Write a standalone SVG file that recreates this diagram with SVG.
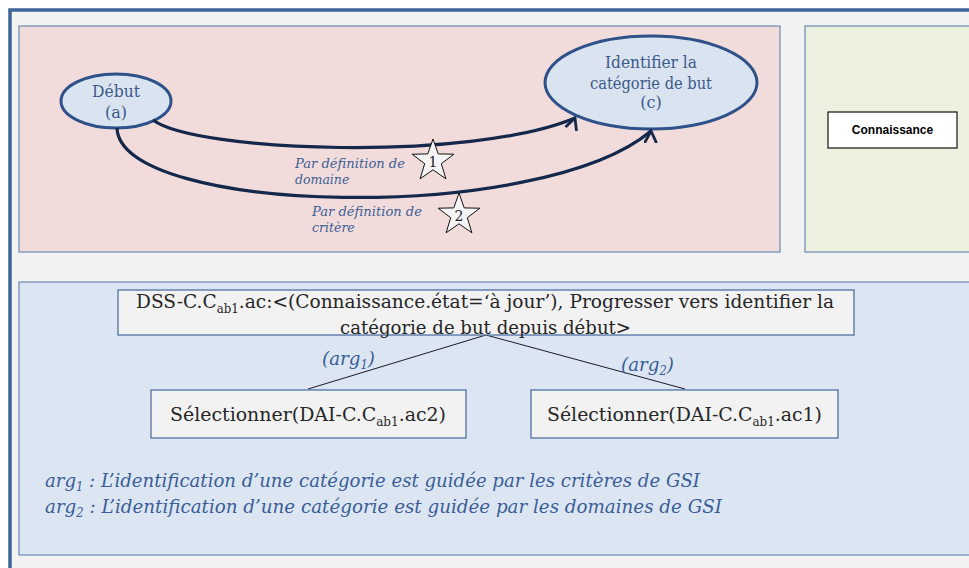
<svg xmlns="http://www.w3.org/2000/svg" width="969" height="568" viewBox="0 0 969 568">
<defs>
<style>
.panel{stroke:#6a8ab5;stroke-width:1.2}
.ell{fill:#dae3f0;stroke:#2f5189;stroke-width:3}
.et{font-size:16px;fill:#3b5a8a;text-anchor:middle}
.lab{font-style:italic;font-size:12.5px;fill:#3c5e94}
.conn{fill:none;stroke:#14284b;stroke-width:3.2}
.star{fill:#f4f4f4;stroke:#111;stroke-width:1}
.sn{font-size:14px;fill:#222;text-anchor:middle}
.box{fill:#f2f2f2;stroke:#4f72a3;stroke-width:1.3}
.bt{font-size:19px;fill:#262626}
.it{font-style:italic;font-size:19px;fill:#3a5d96}
.sub{font-size:12px}
.tl{stroke:#1a1a2a;stroke-width:1}
.ahp{fill:none;stroke:#14284b;stroke-width:2.8;stroke-linecap:round;stroke-linejoin:miter}
</style>
<marker id="ah1" viewBox="0 0 14 14" refX="12" refY="7" markerWidth="14" markerHeight="14" markerUnits="userSpaceOnUse" orient="-70">
<path class="ahp" d="M1,1.5 L12,7 L1,12.5"/>
</marker>
<marker id="ah2" viewBox="0 0 14 14" refX="12" refY="7" markerWidth="14" markerHeight="14" markerUnits="userSpaceOnUse" orient="-88">
<path class="ahp" d="M1,1.5 L12,7 L1,12.5"/>
</marker>
</defs>
<rect x="0" y="0" width="969" height="568" fill="#ffffff"/>
<rect x="10" y="10" width="1000" height="600" fill="#f2f2f2" stroke="#3c6496" stroke-width="3.5"/>

<g id="panel-top">
<rect class="panel" x="19" y="26" width="761" height="226" fill="#f2dcdb"/>
</g>
<g id="panel-green">
<rect class="panel" x="805" y="26" width="180" height="226" fill="#ebf1de"/>
</g>
<g id="panel-bottom">
<rect class="panel" x="19" y="282" width="970" height="273" fill="#dce6f2"/>
</g>

<g id="node-debut" font-family="DejaVu Serif, serif">
<ellipse class="ell" cx="116" cy="101" rx="55" ry="27"/>
<text class="et" x="116" y="97" textLength="48" lengthAdjust="spacingAndGlyphs">Début</text>
<text class="et" x="116" y="118">(a)</text>
</g>

<g id="node-identifier" font-family="DejaVu Serif, serif">
<ellipse class="ell" cx="651" cy="82.5" rx="106" ry="46.5"/>
<text class="et" x="651" y="68" textLength="92" lengthAdjust="spacingAndGlyphs">Identifier la</text>
<text class="et" x="651" y="89" textLength="122" lengthAdjust="spacingAndGlyphs">catégorie de but</text>
<text class="et" x="651" y="108">(c)</text>
</g>

<g id="connectors">
<path class="conn" d="M153,120 C195,152 470,162 575,118" marker-end="url(#ah1)"/>
<path class="conn" d="M117,128 C120,215 540,225 651,131" marker-end="url(#ah2)"/>
<line class="tl" x1="486" y1="335" x2="308" y2="389"/>
<line class="tl" x1="486" y1="335" x2="685" y2="389"/>
</g>

<g id="label-1" font-family="DejaVu Serif, serif">
<text class="lab" x="295" y="168" textLength="110" lengthAdjust="spacingAndGlyphs">Par définition de</text>
<text class="lab" x="295" y="184">domaine</text>
<polygon class="star" points="433,139 438.2,153.9 453.9,154.2 441.3,163.7 445.9,178.8 433,169.8 420.1,178.8 424.7,163.7 412.1,154.2 427.8,153.9"/>
<text class="sn" x="433" y="167">1</text>
</g>

<g id="label-2" font-family="DejaVu Serif, serif">
<text class="lab" x="312" y="216" textLength="110" lengthAdjust="spacingAndGlyphs">Par définition de</text>
<text class="lab" x="312" y="232">critère</text>
<polygon class="star" points="459,193 464.2,207.9 479.9,208.2 467.3,217.7 471.9,232.8 459,223.8 446.1,232.8 450.7,217.7 438.1,208.2 453.8,207.9"/>
<text class="sn" x="459" y="221">2</text>
</g>

<g id="node-connaissance">
<rect x="828" y="112" width="129" height="36" fill="#ffffff" stroke="#111" stroke-width="1.2"/>
<text x="892.5" y="134" font-family="Liberation Sans, Arial, sans-serif" font-weight="bold" font-size="12" text-anchor="middle" fill="#000">Connaissance</text>
</g>

<g id="node-dss" font-family="DejaVu Serif, serif">
<rect class="box" x="118" y="290" width="736" height="45"/>
<text class="bt" x="136" y="308" textLength="698" lengthAdjust="spacingAndGlyphs">DSS-C.C<tspan class="sub" dy="5">ab1</tspan><tspan dy="-5">.ac:&lt;(Connaissance.état=‘à jour’), Progresser vers identifier la</tspan></text>
<text class="bt" x="340" y="334" textLength="291" lengthAdjust="spacingAndGlyphs">catégorie de but depuis début&gt;</text>
</g>

<g id="arg-labels" font-family="DejaVu Serif, serif">
<text class="it" x="322" y="365" textLength="53" lengthAdjust="spacingAndGlyphs">(arg<tspan class="sub" dy="4">1</tspan><tspan dy="-4">)</tspan></text>
<text class="it" x="621" y="371" textLength="53" lengthAdjust="spacingAndGlyphs">(arg<tspan class="sub" dy="4">2</tspan><tspan dy="-4">)</tspan></text>
</g>

<g id="node-sel2" font-family="DejaVu Serif, serif">
<rect class="box" x="151" y="390" width="315" height="48"/>
<text class="bt" x="170" y="421" textLength="276" lengthAdjust="spacingAndGlyphs">Sélectionner(DAI-C.C<tspan class="sub" dy="5">ab1</tspan><tspan dy="-5">.ac2)</tspan></text>
</g>

<g id="node-sel1" font-family="DejaVu Serif, serif">
<rect class="box" x="531" y="390" width="307" height="48"/>
<text class="bt" x="547" y="421" textLength="275" lengthAdjust="spacingAndGlyphs">Sélectionner(DAI-C.C<tspan class="sub" dy="5">ab1</tspan><tspan dy="-5">.ac1)</tspan></text>
</g>

<g id="legend" font-family="DejaVu Serif, serif">
<text class="it" x="45" y="487" textLength="655" lengthAdjust="spacingAndGlyphs">arg<tspan class="sub" dy="4">1</tspan><tspan dy="-4"> : L’identification d’une catégorie est guidée par les critères de GSI</tspan></text>
<text class="it" x="45" y="513" textLength="677" lengthAdjust="spacingAndGlyphs">arg<tspan class="sub" dy="4">2</tspan><tspan dy="-4"> : L’identification d’une catégorie est guidée par les domaines de GSI</tspan></text>
</g>
</svg>
